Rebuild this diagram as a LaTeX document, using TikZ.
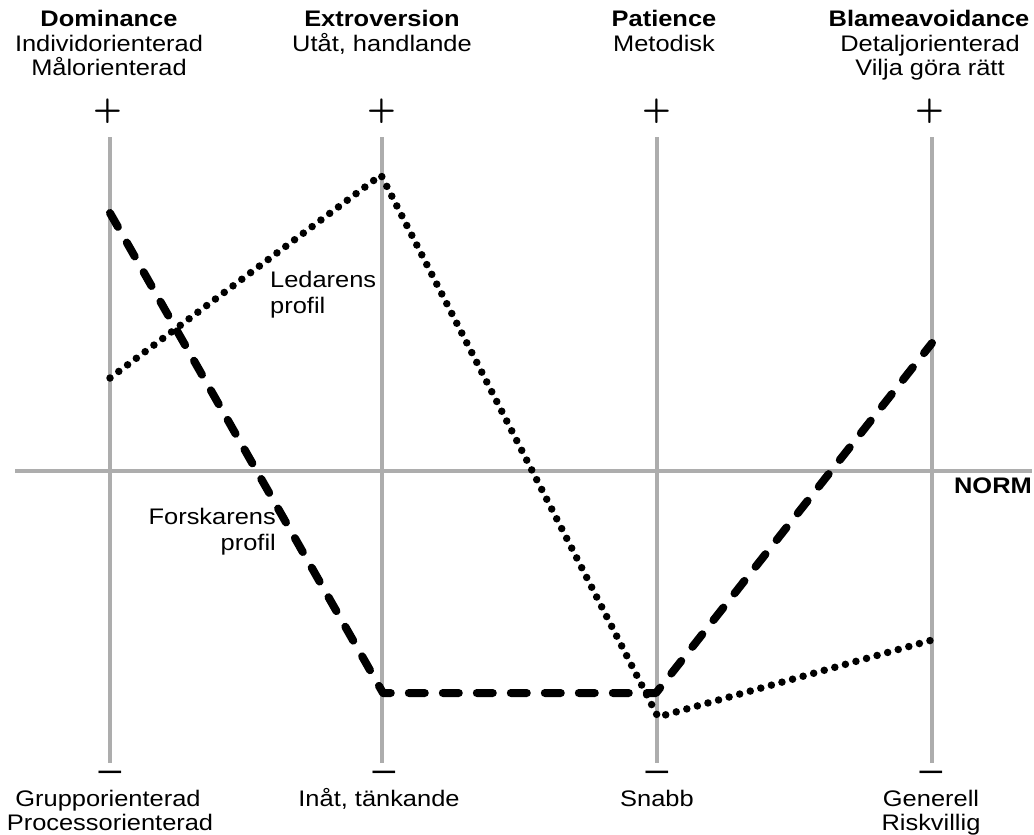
\documentclass[tikz,border=0pt]{standalone}
\usepackage{fontspec}
\setmainfont[FakeStretch=1.13]{Liberation Sans}
\begin{document}
\begin{tikzpicture}[x=1pt,y=-1pt,
  axisline/.style={line width=4pt, draw=black!32},
  forsk/.style={line width=8pt, dash pattern=on 16pt off 18pt, line cap=round, line join=round},
  ledare/.style={line width=7.5pt, dash pattern=on 0pt off 10.98pt, line cap=round, line join=round},
  lbl/.style={inner sep=0pt, anchor=base, font={\fontsize{22.5}{24}\selectfont}},
  head/.style={lbl, font={\fontsize{22.5}{24}\selectfont\bfseries}},
  plussign/.style={inner sep=0pt, font={\fontfamily{lmr}\fontsize{37}{37}\selectfont\bfseries}},
  minussign/.style={inner sep=0pt, font={\fontsize{36}{36}\selectfont}}
]
\useasboundingbox (0,0) rectangle (1034,835);
% axes
\coordinate (a1t) at (110,137); \coordinate (a1b) at (110,763);
\coordinate (a2t) at (382,137); \coordinate (a2b) at (382,763);
\coordinate (a3t) at (657,137); \coordinate (a3b) at (657,763);
\coordinate (a4t) at (932,137); \coordinate (a4b) at (932,763);
\coordinate (nl) at (15,471); \coordinate (nr) at (1032,471);
\draw[axisline] (a1t) -- (a1b);
\draw[axisline] (a2t) -- (a2b);
\draw[axisline] (a3t) -- (a3b);
\draw[axisline] (a4t) -- (a4b);
\draw[axisline] (nl) -- (nr);
% profile points
\coordinate (f1) at (110,213); \coordinate (f2) at (383,693);
\coordinate (f3) at (656,693); \coordinate (f4) at (932,343);
\coordinate (l1) at (110,378); \coordinate (l2) at (381,175);
\coordinate (l3) at (658,717); \coordinate (l4) at (932,640);
\draw[forsk] (f1) -- (f2) -- (f3) -- (f4);
\draw[ledare] (l1) -- (l2) -- (l3) -- (l4);
% top labels
\node[head] (dom1) at (109,27) {Dominance};
\node[lbl] (dom2) at (109,51) {Individorienterad};
\node[lbl] (dom3) at (109,75) {Målorienterad};
\node[head] (ext1) at (382,27) {Extroversion};
\node[lbl] (ext2) at (382,51) {Utåt, handlande};
\node[head] (pat1) at (664,27) {Patience};
\node[lbl] (pat2) at (664,51) {Metodisk};
\node[head] (bla1) at (929,27) {Blameavoidance};
\node[lbl] (bla2) at (930,51) {Detaljorienterad};
\node[lbl] (bla3) at (930,75) {Vilja göra rätt};
% plus signs
\node[plussign] (p1) at (108,111) {+};
\node[plussign] (p2) at (382,111) {+};
\node[plussign] (p3) at (657,111) {+};
\node[plussign] (p4) at (930,111) {+};
% minus signs
\node[minussign] (m1) at (110,776) {–};
\node[minussign] (m2) at (384,776) {–};
\node[minussign] (m3) at (657,776) {–};
\node[minussign] (m4) at (931,776) {–};
% bottom labels
\node[lbl] (dom4) at (108,806) {Grupporienterad};
\node[lbl] (dom5) at (110,830) {Processorienterad};
\node[lbl] (ext3) at (379,806) {Inåt, tänkande};
\node[lbl] (pat3) at (657,806) {Snabb};
\node[lbl] (bla4) at (931,806) {Generell};
\node[lbl] (bla5) at (931,830) {Riskvillig};
% NORM
\node[head, anchor=base east] (norm) at (1032,493) {NORM};
% profile labels
\node[lbl, anchor=base west] (led1) at (270,287) {Ledarens};
\node[lbl, anchor=base west] (led2) at (270,313) {profil};
\node[lbl, anchor=base east] (for1) at (276,524) {Forskarens};
\node[lbl, anchor=base east] (for2) at (276,550) {profil};
\end{tikzpicture}
\end{document}
